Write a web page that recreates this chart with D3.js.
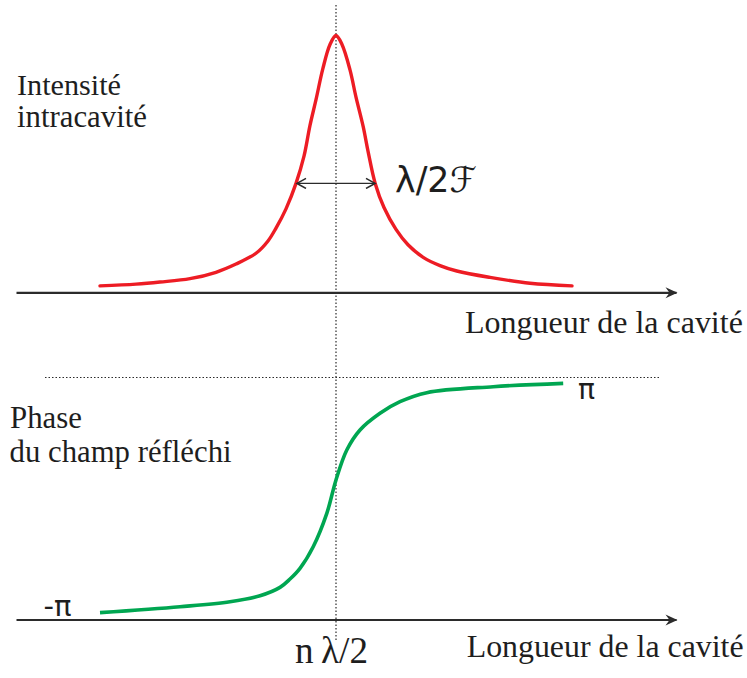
<!DOCTYPE html>
<html>
<head>
<meta charset="utf-8">
<script src="https://cdn.jsdelivr.net/npm/d3@7"></script>
<style>
  html, body { margin: 0; padding: 0; background: #fff; }
  svg { display: block; }
</style>
</head>
<body>
<script>
// Cavity length in units of the half width (0 = resonance n*lambda/2)
const intensityX = [-5.9, -5.0, -4.4, -3.65, -3.0, -2.5, -2.0, -1.7, -1.5, -1.25, -1.0, -0.8, -0.65, -0.5, -0.33, -0.15, 0, 0.15, 0.35, 0.5, 0.68, 0.8, 0.98, 1.2, 1.5, 1.8, 2.18, 2.6, 3.02, 3.85, 4.85, 5.9];
// Intracavity intensity, normalised to the peak
const intensityY = [0.025, 0.032, 0.040, 0.053, 0.078, 0.11, 0.152, 0.20, 0.25, 0.325, 0.424, 0.53, 0.65, 0.75, 0.87, 0.965, 1.0, 0.965, 0.866, 0.76, 0.645, 0.55, 0.424, 0.33, 0.245, 0.185, 0.136, 0.104, 0.083, 0.058, 0.035, 0.025];

// Reflected phase, in units of pi
const phaseX = [-5.9, -3.9, -2.65, -1.9, -1.4, -1.15, -0.9, -0.57, -0.23, 0, 0.27, 0.6, 1.1, 1.6, 2.27, 3.93, 5.68];
const phaseY = [-0.972, -0.922, -0.880, -0.83, -0.76, -0.69, -0.6, -0.419, -0.139, 0.141, 0.392, 0.560, 0.700, 0.797, 0.873, 0.923, 0.951];

// Width marker (lambda / 2F) : ends and level
const fwhmX = [-0.975, 0.975];
const fwhmLevel = 0.424;

const width = 747;
const height = 678;

const svg = d3.select('body').append('svg')
    .attr('width', width)
    .attr('height', height);

// Scales
const x = d3.scaleLinear().domain([-8, 8.5]).range([16, 676]);
const yI = d3.scaleLinear().domain([0, 1]).range([292.3, 35.5]);
const yP = d3.scaleLinear().domain([-1, 1]).range([616, 377.5]);

const ink = '#2b2b2b';

// Markers
const defs = svg.append('defs');
defs.append('marker')
    .attr('id', 'axisHead')
    .attr('viewBox', '-1 -6 14 12')
    .attr('refX', 11).attr('refY', 0)
    .attr('markerWidth', 14).attr('markerHeight', 12)
    .attr('markerUnits', 'userSpaceOnUse')
    .attr('orient', 'auto')
    .append('path')
    .attr('d', 'M0,-5.5 L12,0 L0,5.5 L4,0 Z')
    .attr('fill', ink);

defs.append('marker')
    .attr('id', 'openHead')
    .attr('viewBox', '-1 -6 12 12')
    .attr('refX', 9).attr('refY', 0)
    .attr('markerWidth', 12).attr('markerHeight', 12)
    .attr('markerUnits', 'userSpaceOnUse')
    .attr('orient', 'auto-start-reverse')
    .append('path')
    .attr('d', 'M0,-5 L9,0 L0,5')
    .attr('fill', 'none')
    .attr('stroke', ink)
    .attr('stroke-width', 1.6);

// Dotted guides
svg.append('line')
    .attr('x1', x(0)).attr('x2', x(0))
    .attr('y1', 5).attr('y2', 640)
    .attr('stroke', ink)
    .attr('stroke-width', 1.2)
    .attr('stroke-dasharray', '1.5,2');

svg.append('line')
    .attr('x1', 45).attr('x2', 660)
    .attr('y1', yP(1)).attr('y2', yP(1))
    .attr('stroke', ink)
    .attr('stroke-width', 1.2)
    .attr('stroke-dasharray', '1.5,2');

// Axes (plain arrows, no ticks)
function drawAxis(yPos) {
    const g = svg.append('g')
        .attr('transform', 'translate(0,' + yPos + ')')
        .call(d3.axisBottom(x).tickValues([]).tickSizeOuter(0));
    g.select('.domain')
        .attr('stroke', ink)
        .attr('stroke-width', 2.2)
        .attr('marker-end', 'url(#axisHead)');
}
drawAxis(yI(0));
drawAxis(619.5);

// Curves
const intensity = d3.zip(intensityX, intensityY);
const phase = d3.zip(phaseX, phaseY);

svg.append('path')
    .datum(intensity)
    .attr('fill', 'none')
    .attr('stroke', '#ed1c24')
    .attr('stroke-width', 3.4)
    .attr('stroke-linecap', 'round')
    .attr('d', d3.line().x(d => x(d[0])).y(d => yI(d[1])).curve(d3.curveCatmullRom.alpha(0.5)));

svg.append('path')
    .datum(phase)
    .attr('fill', 'none')
    .attr('stroke', '#00a651')
    .attr('stroke-width', 3.6)
    .attr('d', d3.line().x(d => x(d[0])).y(d => yP(d[1])).curve(d3.curveCatmullRom.alpha(0.5)));

// Width arrow
svg.append('line')
    .attr('x1', x(fwhmX[0])).attr('x2', x(fwhmX[1]))
    .attr('y1', yI(fwhmLevel)).attr('y2', yI(fwhmLevel))
    .attr('stroke', ink)
    .attr('stroke-width', 1.3)
    .attr('marker-start', 'url(#openHead)')
    .attr('marker-end', 'url(#openHead)');

// Labels, each fitted to the width it has in the figure
const serif = "'Liberation Serif', 'DejaVu Serif', serif";
const sans = "'DejaVu Sans', 'Noto Sans', sans-serif";

function label(text, px, py, w, family, size) {
    const t = svg.append('text')
        .attr('x', px).attr('y', py)
        .attr('fill', '#1e1e1e')
        .style('font-family', family)
        .style('font-size', size + 'px')
        .text(text);
    const len = t.node().getComputedTextLength();
    if (w && len > 0) t.style('font-size', (size * w / len) + 'px');
    return t;
}

label('Intensité', 17, 94.5, 104, serif, 28);
label('intracavité', 17, 127, 130, serif, 28);
label('Longueur de la cavité', 465, 333, 278, serif, 28);

label('Phase', 10, 428, 72, serif, 28);
label('du champ réfléchi', 9.6, 462, 222, serif, 28);
label('Longueur de la cavité', 466.7, 657, 277, serif, 28);

label('λ/2ℱ', 395, 191.5, 82, sans, 30);
label('π', 578, 399, 17, sans, 26);
label('-π', 43.5, 616, 28, sans, 26);
label('n\u2009λ/2', 295, 663, 73, serif, 28);
</script>
</body>
</html>
